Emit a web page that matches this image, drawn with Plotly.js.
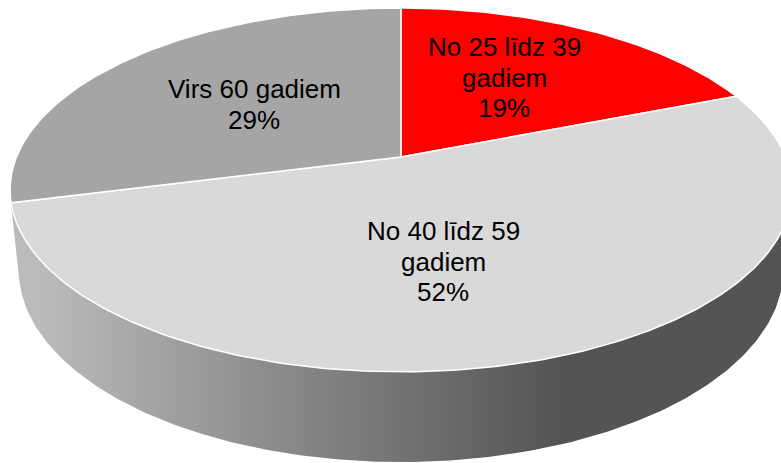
<!DOCTYPE html>
<html>
<head>
<meta charset="utf-8">
<script src="https://cdn.plot.ly/plotly-3.0.1.min.js"></script>
<style>html,body{margin:0;padding:0;background:#fff;}#chart{width:781px;height:463px;}</style>
</head>
<body>
<div id="chart"></div>
<script>
// ---- data ----
var categories = ["No 25 līdz 39 gadiem", "No 40 līdz 59 gadiem", "Virs 60 gadiem"];
var values = [19, 52, 29];
var labelLines = [["No 25 līdz 39", "gadiem"], ["No 40 līdz 59", "gadiem"], ["Virs 60 gadiem"]];
var sliceColors = ["#ff0000", "#d9d9d9", "#a5a5a5"];

// ---- 3D perspective geometry (layout) ----
var W = 781, H = 463;
var cx = 401, cy = 157;
var sinA = 0.4577, cosA = Math.sqrt(1 - sinA * sinA);
var k = 0.181;
var D = cosA / k;
var f = 384.5 * D;
var h = 0.2356;

function proj(phi, r, Y) {
  var X = r * Math.sin(phi), Z = -r * Math.cos(phi);
  var d = D - Y * sinA - Z * cosA;
  return [cx + f * X / d, cy - f * (Y * cosA - Z * sinA) / d];
}

var total = values.reduce(function (a, b) { return a + b; }, 0);
var traces = [];

// side wall (visible front part)
var zs = 1 / (D * cosA);
var p1 = Math.acos(-zs), p2 = 2 * Math.PI - Math.acos(-zs);
var wx = [], wy = [], N = 200, i, p;
for (i = 0; i <= N; i++) { p = proj(p1 + (p2 - p1) * i / N, 1, 0); wx.push(p[0]); wy.push(p[1]); }
for (i = N; i >= 0; i--) { p = proj(p1 + (p2 - p1) * i / N, 1, -h); wx.push(p[0]); wy.push(p[1]); }
traces.push({
  type: "scatter", mode: "lines", x: wx, y: wy, fill: "toself",
  fillcolor: "#888888",
  fillgradient: { type: "horizontal", start: 40, stop: 560,
    colorscale: [[0, "#bbbbbb"], [0.5, "#868686"], [1, "#545454"]] },
  line: { width: 0, color: "rgba(0,0,0,0)" }, hoverinfo: "skip", showlegend: false
});

// top face slices
var cum = 0;
var mids = [];
values.forEach(function (v, idx) {
  var a0 = cum / total * 2 * Math.PI;
  cum += v;
  var a1 = cum / total * 2 * Math.PI;
  var xs = [cx], ys = [cy];
  var n = Math.max(8, Math.round((a1 - a0) / (2 * Math.PI) * 400));
  for (var j = 0; j <= n; j++) {
    var q = proj(a0 + (a1 - a0) * j / n, 1, 0);
    xs.push(q[0]); ys.push(q[1]);
  }
  xs.push(cx); ys.push(cy);
  traces.push({
    type: "scatter", mode: "lines", x: xs, y: ys, fill: "toself",
    fillcolor: sliceColors[idx], line: { color: "#ffffff", width: 1.5 },
    hoverinfo: "skip", showlegend: false, name: categories[idx]
  });
});

// labels (pixel positions of each label block: center x, first line y)
var labelPos = [[504, 47], [443, 231], [254, 89]];
var annotations = [];
values.forEach(function (v, idx) {
  var lines = labelLines[idx].concat([Math.round(v / total * 100) + "%"]);
  lines.forEach(function (t, li) {
    annotations.push({
      x: labelPos[idx][0], y: labelPos[idx][1] + li * 30.5, xref: "x", yref: "y",
      text: t, showarrow: false, xanchor: "center", yanchor: "middle",
      font: { family: "Liberation Sans, Arial, sans-serif", size: 26, color: "#000000" }
    });
  });
});

var layout = {
  width: W, height: H,
  margin: { l: 0, r: 0, t: 0, b: 0, pad: 0 },
  paper_bgcolor: "#ffffff", plot_bgcolor: "#ffffff",
  xaxis: { range: [0, W], visible: false, fixedrange: true },
  yaxis: { range: [H, 0], visible: false, fixedrange: true },
  showlegend: false,
  annotations: annotations
};
Plotly.newPlot("chart", traces, layout, { displayModeBar: false, staticPlot: true });
</script>
</body>
</html>
